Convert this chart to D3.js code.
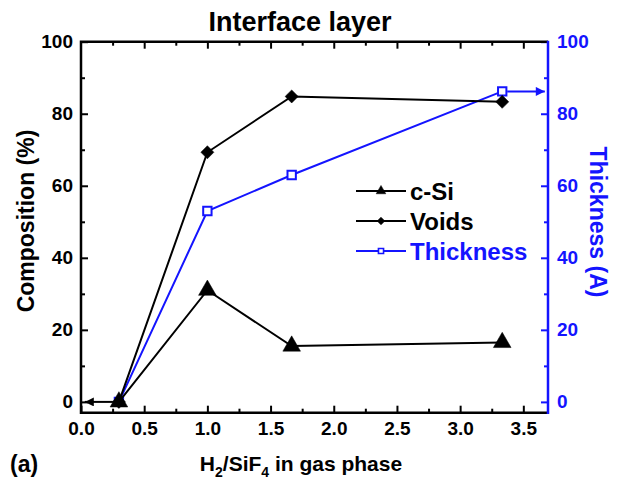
<!DOCTYPE html>
<html>
<head>
<meta charset="utf-8">
<script src="https://cdn.jsdelivr.net/npm/d3@7"></script>
<style>
  html, body { margin: 0; padding: 0; background: #fff; }
  svg { display: block; font-family: "Liberation Sans", Arial, sans-serif; font-weight: bold; }
</style>
</head>
<body>
<svg id="chart" width="624" height="479"></svg>
<script>
// ── Data ──────────────────────────────────────────────────────────────────────
const ratio     = [0.3, 1.0, 1.667, 3.333]
const cSi       = [0, 31, 15.5, 16.5]
const voids     = [0, 69.3, 84.8, 83.3]
const thickness = [0, 53, 63, 86.2]

const xMajor = [0, 0.5, 1.0, 1.5, 2.0, 2.5, 3.0, 3.5]
const xMinor = [0.25, 0.75, 1.25, 1.75, 2.25, 2.75, 3.25]
const yMajor = [0, 20, 40, 60, 80, 100]
const yMinor = [10, 30, 50, 70, 90]

const BLUE = '#1414ff'

// ── Setup ─────────────────────────────────────────────────────────────────────
const svg = d3.select('#chart')
const L = 81, R = 548, T = 41.7, B = 412.7

const x  = d3.scaleLinear().domain([0, 3.7]).range([L, R + 0.6])
const y  = d3.scaleLinear().domain([-3, 100]).range([B, T])
const y2 = d3.scaleLinear().domain([-3, 100]).range([B, T])

// ── Axes ──────────────────────────────────────────────────────────────────────
function styleAxis(g, color) {
  g.select('.domain').remove()
  g.selectAll('line').attr('stroke', color).attr('stroke-width', 2)
  g.selectAll('text').attr('fill', color).attr('font-size', 19).attr('font-weight', 'bold')
    .attr('font-family', '"Liberation Sans", Arial, sans-serif')
}

// bottom
svg.append('g').attr('transform', `translate(0,${B})`)
  .call(d3.axisBottom(x).tickValues(xMajor).tickSizeInner(-7).tickSizeOuter(0).tickPadding(9).tickFormat(d3.format('.1f')))
  .call(g => styleAxis(g, '#000'))
svg.append('g').attr('transform', `translate(0,${B})`)
  .call(d3.axisBottom(x).tickValues(xMinor).tickSizeInner(-4).tickSizeOuter(0).tickFormat(''))
  .call(g => styleAxis(g, '#000'))
// top
svg.append('g').attr('transform', `translate(0,${T})`)
  .call(d3.axisTop(x).tickValues(xMajor.filter(d => d > 0)).tickSizeInner(-7).tickSizeOuter(0).tickFormat(''))
  .call(g => styleAxis(g, '#000'))
svg.append('g').attr('transform', `translate(0,${T})`)
  .call(d3.axisTop(x).tickValues(xMinor).tickSizeInner(-4).tickSizeOuter(0).tickFormat(''))
  .call(g => styleAxis(g, '#000'))
// left
svg.append('g').attr('transform', `translate(${L},0)`)
  .call(d3.axisLeft(y).tickValues(yMajor).tickSizeInner(-7).tickSizeOuter(0).tickPadding(8))
  .call(g => styleAxis(g, '#000'))
svg.append('g').attr('transform', `translate(${L},0)`)
  .call(d3.axisLeft(y).tickValues(yMinor).tickSizeInner(-4).tickSizeOuter(0).tickFormat(''))
  .call(g => styleAxis(g, '#000'))
// right
svg.append('g').attr('transform', `translate(${R},0)`)
  .call(d3.axisRight(y2).tickValues(yMajor).tickSizeInner(-7).tickSizeOuter(0).tickPadding(9))
  .call(g => styleAxis(g, BLUE))
svg.append('g').attr('transform', `translate(${R},0)`)
  .call(d3.axisRight(y2).tickValues(yMinor).tickSizeInner(-4).tickSizeOuter(0).tickFormat(''))
  .call(g => styleAxis(g, BLUE))

// frame
svg.append('path').attr('fill', 'none').attr('stroke', '#000').attr('stroke-width', 2.5)
  .attr('d', `M${R},${T}H${L}V${B}H${R}`)
svg.append('line').attr('stroke', BLUE).attr('stroke-width', 2.5)
  .attr('x1', R).attr('x2', R).attr('y1', T - 1).attr('y2', B + 1.2)

// ── Series ────────────────────────────────────────────────────────────────────
const sym = {
  tri: d3.symbol().type(d3.symbolTriangle),
  dia: d3.symbol().type(d3.symbolSquare),
  sq:  d3.symbol().type(d3.symbolSquare)
}

function series(vals, yScale, color, kind, size) {
  const pts = ratio.map((r, i) => [x(r), yScale(vals[i])])
  svg.append('path').attr('fill', 'none').attr('stroke', color).attr('stroke-width', 2)
    .attr('d', d3.line()(pts))
  svg.append('g').selectAll('path').data(pts).join('path')
    .attr('transform', d => `translate(${d[0]},${d[1]})` + (kind === 'dia' ? ' rotate(45)' : ''))
    .attr('d', sym[kind].size(size)())
    .attr('fill', kind === 'sq' ? '#fff' : color)
    .attr('stroke', color).attr('stroke-width', kind === 'sq' ? 2 : 0.5)
}

// thickness first so the black markers sit on top at the shared first point
series(thickness, y2, BLUE, 'sq', 70)
series(cSi, y, '#000', 'tri', 135)
series(voids, y, '#000', 'dia', 85)

// axis-indicator arrows
svg.append('defs').call(d => {
  d.append('marker').attr('id', 'ah-k').attr('viewBox', '0 0 10 10').attr('refX', 10).attr('refY', 5)
    .attr('markerWidth', 7).attr('markerHeight', 4.5).attr('orient', 'auto')
    .append('path').attr('d', 'M0,0L10,5L0,10Z').attr('fill', '#000')
  d.append('marker').attr('id', 'ah-b').attr('viewBox', '0 0 10 10').attr('refX', 10).attr('refY', 5)
    .attr('markerWidth', 7).attr('markerHeight', 4.5).attr('orient', 'auto')
    .append('path').attr('d', 'M0,0L10,5L0,10Z').attr('fill', BLUE)
})
svg.append('line').attr('stroke', '#000').attr('stroke-width', 2)
  .attr('x1', x(ratio[0]) - 6).attr('y1', y(cSi[0])).attr('x2', x(0.03)).attr('y2', y(cSi[0]))
  .attr('marker-end', 'url(#ah-k)')
svg.append('line').attr('stroke', BLUE).attr('stroke-width', 2)
  .attr('x1', x(ratio[3]) + 5).attr('y1', y2(thickness[3])).attr('x2', x(3.67)).attr('y2', y2(thickness[3]))
  .attr('marker-end', 'url(#ah-b)')

// ── Legend ────────────────────────────────────────────────────────────────────
const legend = [
  { label: 'c-Si', color: '#000', kind: 'tri', size: 40 },
  { label: 'Voids', color: '#000', kind: 'dia', size: 30 },
  { label: 'Thickness', color: BLUE, kind: 'sq', size: 26 }
]
legend.forEach((d, i) => {
  const cy = 191 + i * 30
  svg.append('line').attr('stroke', d.color).attr('stroke-width', 2)
    .attr('x1', 356).attr('x2', 406).attr('y1', cy).attr('y2', cy)
  svg.append('path')
    .attr('transform', `translate(381,${cy})` + (d.kind === 'dia' ? ' rotate(45)' : ''))
    .attr('d', sym[d.kind].size(d.size)())
    .attr('fill', d.kind === 'sq' ? '#fff' : d.color)
    .attr('stroke', d.color).attr('stroke-width', d.kind === 'sq' ? 1.6 : 0.5)
  svg.append('text').attr('x', 410).attr('y', cy + 8.5)
    .attr('font-size', 24).attr('fill', d.color).text(d.label)
})

// ── Titles ────────────────────────────────────────────────────────────────────
svg.append('text').attr('x', 300).attr('y', 31).attr('text-anchor', 'middle')
  .attr('font-size', 27).text('Interface layer')

svg.append('text').attr('transform', 'translate(34,221) rotate(-90)').attr('text-anchor', 'middle')
  .attr('font-size', 23).text('Composition (%)')

svg.append('text').attr('transform', 'translate(590,222) rotate(90)').attr('text-anchor', 'middle')
  .attr('font-size', 23).attr('fill', BLUE).text('Thickness (A)')

const xt = svg.append('text').attr('x', 301).attr('y', 471).attr('text-anchor', 'middle').attr('font-size', 21)
xt.append('tspan').text('H')
xt.append('tspan').attr('font-size', 14).attr('dy', 6).text('2')
xt.append('tspan').attr('dy', -6).text('/SiF')
xt.append('tspan').attr('font-size', 14).attr('dy', 6).text('4')
xt.append('tspan').attr('dy', -6).text(' in gas phase')

svg.append('text').attr('x', 10).attr('y', 472).attr('font-size', 23).text('(a)')
</script>
</body>
</html>
